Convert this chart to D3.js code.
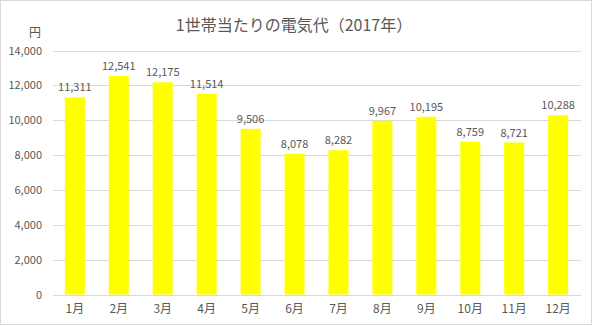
<!DOCTYPE html>
<html><head><meta charset="utf-8">
<script src="https://cdn.jsdelivr.net/npm/d3@7"></script>
<style>body{margin:0;background:#fff}svg{display:block}text{font-family:"Noto Sans CJK JP","Noto Sans",sans-serif}</style>
</head><body>
<script>
const months = ["1月","2月","3月","4月","5月","6月","7月","8月","9月","10月","11月","12月"];
const values = [11311,12541,12175,11514,9506,8078,8282,9967,10195,8759,8721,10288];
const yTicks = [0,2000,4000,6000,8000,10000,12000,14000];
const title = "1世帯当たりの電気代（2017年）";
const unit = "円";

const W = 594, H = 326;
const svg = d3.select("body").append("svg").attr("width", W).attr("height", H);
svg.append("rect").attr("x",0.5).attr("y",0.5).attr("width",591).attr("height",324)
  .attr("fill","#fff").attr("stroke","#d9d9d9");

const x = d3.scaleBand().domain(months).range([53,580]).paddingInner(0.545).paddingOuter(0.27);
const y = d3.scaleLinear().domain([0,14000]).range([294.5,50.5]);

const fmt = d3.format(",");
const grid = svg.append("g");
grid.selectAll("line").data(yTicks).join("line")
  .attr("x1",53).attr("x2",581)
  .attr("y1",d=>Math.round(y(d))+0.5).attr("y2",d=>Math.round(y(d))+0.5)
  .attr("stroke","#d9d9d9").attr("stroke-width",1);

const yAxis = d3.axisLeft(y).tickValues(yTicks).tickFormat(fmt).tickSize(0).tickPadding(0);
const ya = svg.append("g").attr("transform","translate(42,0)").call(yAxis);
ya.select(".domain").remove();
ya.selectAll("text").attr("fill","#595959").style("font-size","11px").attr("font-family","'Noto Sans CJK JP'");

svg.selectAll("rect.bar").data(values).join("rect").attr("class","bar")
  .attr("x",(d,i)=>x(months[i])).attr("width",x.bandwidth())
  .attr("y",d=>y(d)).attr("height",d=>y(0)-y(d)).attr("fill","#ffff00");

svg.selectAll("text.lbl").data(values).join("text").attr("class","lbl")
  .attr("x",(d,i)=>x(months[i])+x.bandwidth()/2).attr("y",d=>y(d)-6)
  .attr("text-anchor","middle").attr("fill","#595959").style("font-size","11px")
  .text(d=>fmt(d));

const xAxis = d3.axisBottom(x).tickSize(0).tickPadding(0);
const xa = svg.append("g").attr("transform","translate(0,304)").call(xAxis);
xa.select(".domain").remove();
xa.selectAll("text").attr("fill","#595959").style("font-size","12px").attr("font-family","'Noto Sans CJK JP'");

svg.append("text").attr("x",35).attr("y",37).attr("text-anchor","middle")
  .attr("fill","#595959").style("font-size","12px").text(unit);
svg.append("text").attr("x",294).attr("y",31).attr("text-anchor","middle")
  .attr("fill","#595959").style("font-size","16px").text(title);
</script>
</body></html>
